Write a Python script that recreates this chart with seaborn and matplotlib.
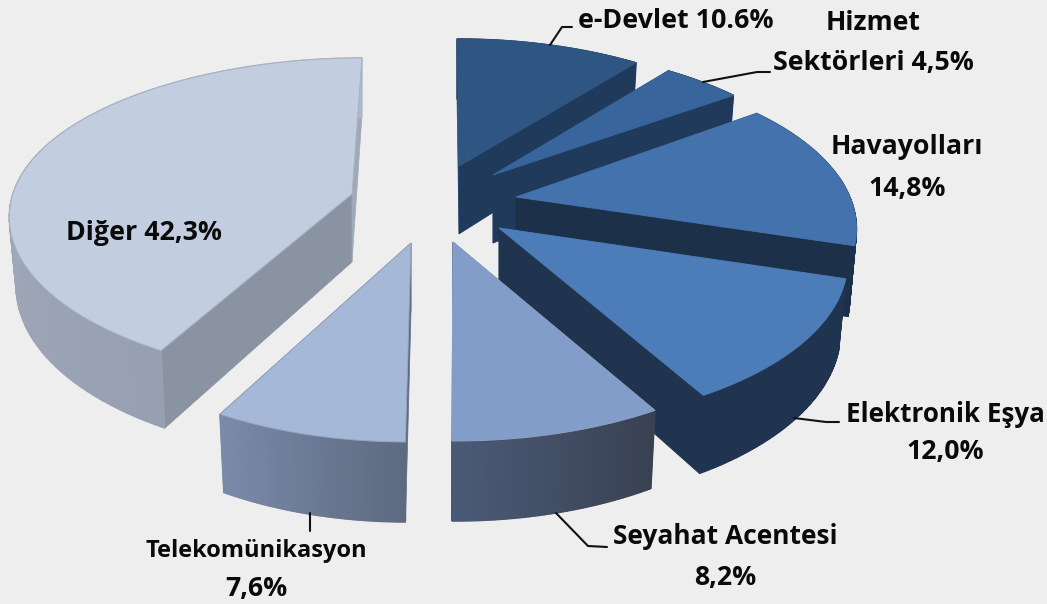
import numpy as np
import matplotlib
matplotlib.use("Agg")
import matplotlib.pyplot as plt
import seaborn as sns

categories = ["e-Devlet", "Hizmet Sektörleri", "Havayolları", "Elektronik Eşya",
              "Seyahat Acentesi", "Telekomünikasyon", "Diğer"]
shares = [10.6, 4.5, 14.8, 12.0, 8.2, 7.6, 42.3]

# layout of the exploded slices, pixel positions of each tip
tip_x = [459, 493, 516, 499, 453, 411, 352]
tip_y = [166, 175, 197, 228, 242, 243, 194]
rim_dx = [-2, -4, -4, 4, 1.5, -3, 0]
rim_dy = [3, 2, -2, 0, 1, 1, -10]
rim_tilt = [0, 0, 0, 0, 0, 0, -4]
rim_back_lean = [0, 0, 0, 0, 0, 0, 10]
rim_scale_x = [1, 1, 1, 1, 1, 0.98, 0.995]
top_colors = ["#2F5682", "#38659B", "#4472AC", "#4C7DB9", "#829DC9", "#A6B8D7", "#C2CDE0"]
face_colors = ["#203A5B", "#203A5B", "#1D3049", "#20344F", "#3E4A60", "#5E6B82", "#8A93A2"]
wall_from = ["#203A5B", "#203A5B", "#1D3049", "#20344F", "#394152", "#5D6A80", "#97A0B0"]
wall_to = ["#203A5B", "#203A5B", "#1D3049", "#20344F", "#4A5A76", "#7A8BAA", "#AEB8CB"]
edge_colors = [None, None, None, None, "#8FA3C4", "#97A6BE", "#A9B1BF"]
draw_order = [0, 1, 2, 3, 6, 5, 4]

RX, RY, PERSP = 337.0, 157.0, 0.207
DEPTH, DEPTH_GROW, SHRINK = 68.0, 12.0, 0.02

sns.set_theme(style="white")
plt.rcParams["font.family"] = ["Open Sans", "DejaVu Sans"]
BG = "#EEEEEE"
fig = plt.figure(figsize=(10.47, 6.04), dpi=100, facecolor=BG)
ax = fig.add_axes([0, 0, 1, 1], facecolor=BG)
ax.set_xlim(0, 1047)
ax.set_ylim(604, 0)
ax.axis("off")


def rim(theta, i):
    u, v = np.sin(theta), -np.cos(theta)
    w = 1 - PERSP * v
    x = RX * rim_scale_x[i] * u / w + rim_dx[i] + rim_back_lean[i] * np.clip(-v, 0, None) ** 2
    y = RY * v / w + rim_dy[i] + rim_tilt[i] * v
    return x, y


def lower(dx, dy):
    return dx * (1 - SHRINK), dy + DEPTH + DEPTH_GROW * dy / 198.0


edges = np.concatenate([[0], np.cumsum(shares)]) / sum(shares) * 2 * np.pi

for i in draw_order:
    t0, t1 = edges[i], edges[i + 1]
    tx, ty = tip_x[i], tip_y[i]
    th = np.linspace(t0, t1, 90)
    dx, dy = rim(th, i)
    lx, ly = lower(dx, dy)
    ox, oy = lower(0.0, 0.0)
    z = 1 + draw_order.index(i)

    # cut faces
    for k in (0, -1):
        fc = face_colors[i]
        if i == 6 and k == -1:
            fc = "#A0A9B8"
        if i == 0 and k == 0:
            fc = "#2B4E79"
        ax.fill([tx, tx + dx[k], tx + lx[k], tx + ox],
                [ty, ty + dy[k], ty + ly[k], ty + oy],
                color=fc, lw=0.5, zorder=z)

    # outer wall in thin shaded strips
    shades = sns.blend_palette([wall_from[i], wall_to[i]], len(th) - 1)
    for j in range(len(th) - 1):
        ax.fill([tx + dx[j], tx + dx[j + 1], tx + lx[j + 1], tx + lx[j]],
                [ty + dy[j], ty + dy[j + 1], ty + ly[j + 1], ty + ly[j]],
                color=shades[j], lw=1.0, zorder=z)

    # top surface
    ax.fill(np.r_[tx, tx + dx], np.r_[ty, ty + dy], facecolor=top_colors[i],
            edgecolor=edge_colors[i] or top_colors[i], lw=0.7, zorder=z)

# leader lines
leaders = [
    ([550, 562, 572], [45, 27, 27]),
    ([703, 757, 770], [82, 72, 72]),
    ([794, 826, 839], [418, 422, 422]),
    ([556, 588, 607], [513, 546, 547]),
    ([310, 310], [513, 531]),
]
for xs, ys in leaders:
    ax.plot(xs, ys, color="#111111", lw=1.5, zorder=20)

labels = [
    ("e-Devlet 10.6%", 676, 21, 19.4),
    ("Hizmet", 873, 23, 19.2),
    ("Sektörleri 4,5%", 873, 63, 19.2),
    ("Havayolları", 907, 147, 19.2),
    ("14,8%", 907, 189, 19.2),
    ("Elektronik Eşya", 945, 415, 18.7),
    ("12,0%", 945, 452, 19.2),
    ("Seyahat Acentesi", 725, 537, 19.0),
    ("8,2%", 725, 578, 19.2),
    ("Telekomünikasyon", 256, 551, 17),
    ("7,6%", 256, 589, 19.2),
    ("Diğer 42,3%", 144, 233, 19.3),
]
for s, x, y, fs in labels:
    ax.text(x, y, s, ha="center", va="center", fontsize=fs,
            fontweight="bold", color="#0A0A0A", zorder=30)

fig.savefig("out.png", dpi=100, facecolor=BG)
